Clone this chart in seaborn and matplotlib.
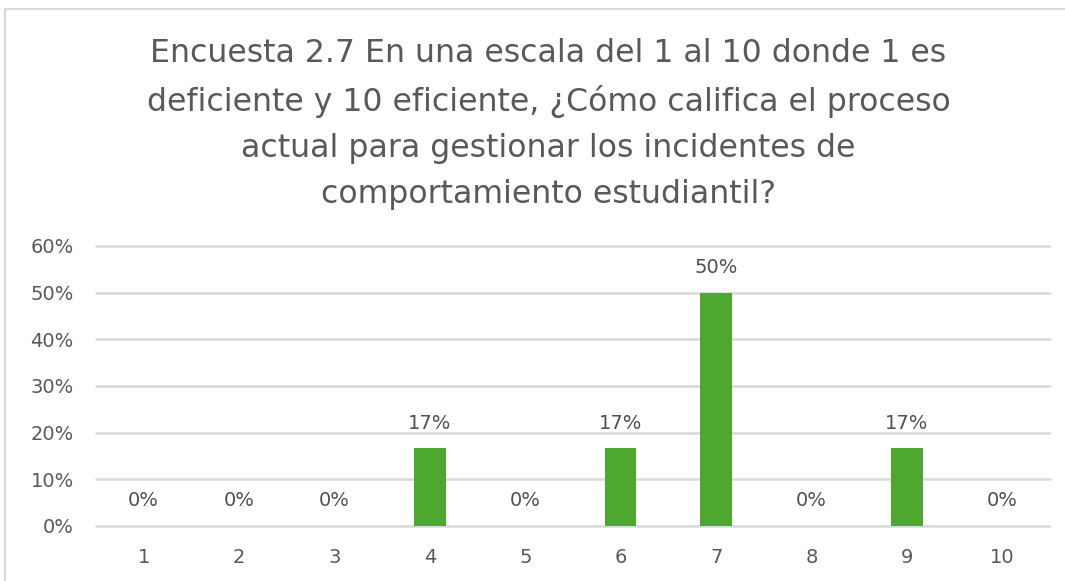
import matplotlib
matplotlib.use("Agg")
import matplotlib.pyplot as plt
import pandas as pd
import seaborn as sns
from matplotlib.patches import Rectangle

# chart data
ratings = ["1", "2", "3", "4", "5", "6", "7", "8", "9", "10"]
shares = [0.0, 0.0, 0.0, 0.1667, 0.0, 0.1667, 0.50, 0.0, 0.1667, 0.0]
y_ticks = [0.0, 0.1, 0.2, 0.3, 0.4, 0.5, 0.6]

TITLE = ("Encuesta 2.7 En una escala del 1 al 10 donde 1 es\n"
         "deficiente y 10 eficiente, ¿Cómo califica el proceso\n"
         "actual para gestionar los incidentes de\n"
         "comportamiento estudiantil?")

GREEN = "#4EA72E"
GREY_TXT = "#595959"
GRID = "#D9D9D9"

sns.set_theme(style="white")
plt.rcParams["font.family"] = ["DejaVu Sans"]

df = pd.DataFrame({"rating": ratings, "share": shares})

fig = plt.figure(figsize=(10.65, 5.81), dpi=100)
ax = fig.add_axes([0.0901, 0.0947, 0.8959, 0.4819])

sns.barplot(data=df, x="rating", y="share", order=ratings, color=GREEN,
            width=0.33, saturation=1, linewidth=0, ax=ax, zorder=3)

ax.set_ylim(0, 0.6)
ax.set_xlim(-0.5, len(ratings) - 0.5)
ax.set_yticks(y_ticks)
ax.set_yticklabels([f"{t:.0%}" for t in y_ticks])
for t in y_ticks:
    ax.axhline(t, color=GRID, lw=1.8, zorder=1, clip_on=False)
ax.set_xlabel("")
ax.set_ylabel("")
for s in ax.spines.values():
    s.set_visible(False)
ax.tick_params(axis="both", length=0, labelsize=14, labelcolor=GREY_TXT)
ax.tick_params(axis="x", pad=16)
ax.tick_params(axis="y", pad=16)

for i, v in enumerate(shares):
    ax.annotate(f"{v:.0%}", (i, v), xytext=(0, 18), textcoords="offset points",
                ha="center", va="center", fontsize=14, color="#505050")

fig.text(0.515, 0.787, TITLE, ha="center", va="center", fontsize=22.7,
         color=GREY_TXT, linespacing=1.62)

fig.patches.append(Rectangle((5 / 1065, -0.01), 1.1, (581 - 9) / 581 + 0.01,
                             transform=fig.transFigure, fill=False,
                             edgecolor="#D9D9D9", lw=1.5, zorder=0))

fig.savefig("out.png", dpi=100)
